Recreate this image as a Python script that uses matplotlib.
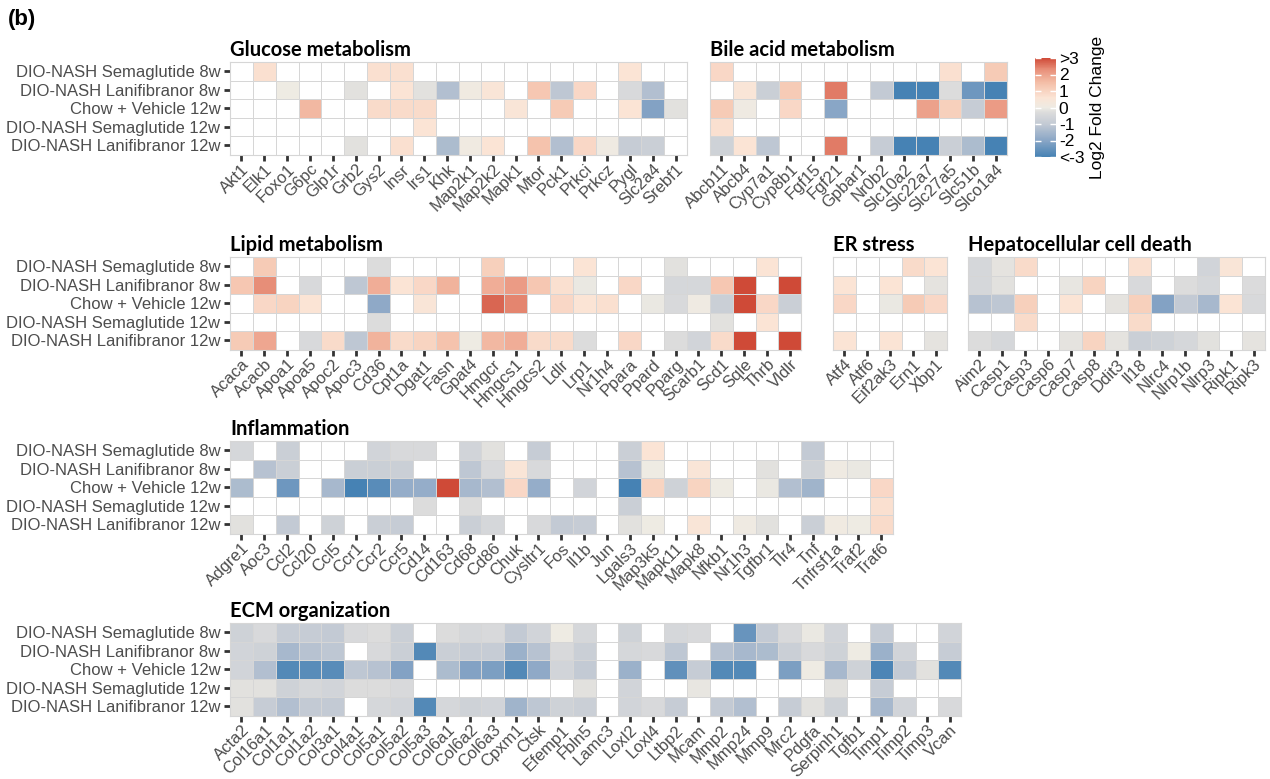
import numpy as np
import matplotlib
matplotlib.use("Agg")
import matplotlib.pyplot as plt
from matplotlib.colors import LinearSegmentedColormap, Normalize
from matplotlib.cm import ScalarMappable

n = np.nan

groups = ["DIO-NASH Semaglutide 8w", "DIO-NASH Lanifibranor 8w", "Chow + Vehicle 12w",
          "DIO-NASH Semaglutide 12w", "DIO-NASH Lanifibranor 12w"]

# log2 fold change, one row per group (white cells = nan)
glucose_genes = ["Akt1", "Elk1", "Foxo1", "G6pc", "Glp1r", "Grb2", "Gys2", "Insr", "Irs1", "Khk",
                 "Map2k1", "Map2k2", "Mapk1", "Mtor", "Pck1", "Prkci", "Prkcz", "Pygl", "Slc2a4", "Srebf1"]
glucose_vals = [
    [n, .7, n, n, n, n, .7, .7, n, n, n, n, n, n, n, n, n, .6, n, n],
    [n, n, 0, n, n, -.2, n, .6, -.2, -1.3, .1, .5, n, 1.3, -1.1, .9, n, -.4, -1.3, n],
    [n, n, n, 1.6, n, n, .8, .8, .8, n, n, n, .5, n, 1.2, n, n, .6, -2.1, -.2],
    [n, n, n, n, n, n, n, n, .6, n, n, n, n, n, n, n, n, n, n, n],
    [n, n, n, n, n, -.2, n, .7, n, -1.4, .1, .6, n, 1.4, -1.3, .9, .05, -.9, -.8, n],
]

bile_genes = ["Abcb11", "Abcb4", "Cyp7a1", "Cyp8b1", "Fgf15", "Fgf21", "Gpbar1", "Nr0b2",
              "Slc10a2", "Slc22a7", "Slc27a5", "Slc51b", "Slco1a4"]
bile_vals = [
    [.9, n, n, n, n, n, n, n, n, n, .7, n, 1.2],
    [n, .5, -.8, 1.2, n, 2.5, n, -1.0, -3, -3, -.3, -2.4, -3],
    [1.2, .05, n, .9, n, -2.0, n, n, n, 2.0, 1.1, -.9, 2.1],
    [.7, n, n, n, n, n, n, n, n, n, n, n, n],
    [-.7, .6, -1.1, n, n, 2.5, n, -.9, -3, -3, -.8, -1.4, -3],
]

lipid_genes = ["Acaca", "Acacb", "Apoa1", "Apoa5", "Apoc2", "Apoc3", "Cd36", "Cpt1a", "Dgat1", "Fasn",
               "Gpat4", "Hmgcr", "Hmgcs1", "Hmgcs2", "Ldlr", "Lrp1", "Nr1h4", "Ppara", "Ppard", "Pparg",
               "Scarb1", "Scd1", "Sqle", "Thrb", "Vldlr"]
lipid_vals = [
    [n, 1.2, n, n, n, n, -.3, n, n, n, n, 1.1, n, n, n, .6, n, n, n, -.2, n, n, n, .6, n],
    [1.3, 2.3, n, -.4, n, -1.1, 1.8, .6, .9, 1.7, n, 1.8, 2.1, 1.3, .7, -.05, n, .9, n, -.5, -.5, 1.3, 3, n, 3],
    [n, .9, 1.0, .6, n, n, -1.9, n, .5, n, n, 2.7, 2.4, n, .9, .6, .7, n, -.05, -.4, .05, -.8, 3, .9, -.8],
    [n, n, n, n, n, n, -.3, n, n, n, n, n, n, n, n, n, n, n, n, n, n, -.2, n, .6, n],
    [1.2, 1.9, n, -.4, .8, -1.1, 1.7, .8, 1.0, 1.4, 0, 1.6, 1.8, .8, .8, -.3, n, .9, n, -.3, -.6, .8, 3, n, 3],
]

er_genes = ["Atf4", "Atf6", "Eif2ak3", "Ern1", "Xbp1"]
er_vals = [
    [n, n, n, .8, .6],
    [.6, n, .6, n, -.15],
    [.9, n, -.05, 1.2, .9],
    [n, n, n, n, n],
    [.6, n, .6, n, -.15],
]

death_genes = ["Aim2", "Casp1", "Casp3", "Casp6", "Casp7", "Casp8", "Ddit3", "Il18", "Nlrc4",
               "Nlrp1b", "Nlrp3", "Ripk1", "Ripk3"]
death_vals = [
    [-.5, -.15, .8, n, n, n, n, .7, n, n, -.6, .5, n],
    [-.5, -.2, n, n, -.1, 1.0, n, -.4, n, -.3, -.5, n, -.35],
    [-1.2, -1.1, 1.1, n, .6, n, -.15, 1.1, -2.1, -1.0, -1.5, .6, -.4],
    [n, n, .8, n, n, n, n, .8, n, n, n, n, n],
    [-.3, -.5, n, n, -.15, 1.0, -.15, -.8, -.7, -.5, -.2, n, -.15],
]

infl_genes = ["Adgre1", "Aoc3", "Ccl2", "Ccl20", "Ccl5", "Ccr1", "Ccr2", "Ccr5", "Cd14", "Cd163",
              "Cd68", "Cd86", "Chuk", "Cysltr1", "Fos", "Il1b", "Jun", "Lgals3", "Map3k5", "Mapk11",
              "Mapk8", "Nfkb1", "Nr1h3", "Tgfbr1", "Tlr4", "Tnf", "Tnfrsf1a", "Traf2", "Traf6"]
infl_vals = [
    [-.5, n, -.8, n, n, n, -.6, -.4, -.4, n, -.6, -.2, n, -.9, n, n, n, -.8, .6, n, n, n, n, n, n, -1.0, n, n, n],
    [n, -1.2, -.8, n, n, -.8, -.8, -.8, n, n, -1.1, -.4, .5, -.4, n, n, n, -1.2, 0, n, .5, n, n, -.2, n, -.7, .05, -.05, n],
    [-1.4, n, -2.4, n, -1.5, -3, -2.7, -1.8, -1.8, 3, -1.5, -1.3, .9, -1.8, n, -.6, n, -3, 1.0, -.7, 1.0, 0, n, -.05, -1.3, -1.6, n, n, .9],
    [n, n, n, n, n, n, n, n, -.3, n, -.3, n, n, n, n, n, n, -.8, n, n, n, n, n, n, n, n, n, n, .7],
    [-.2, n, -1.0, n, -.7, n, -.8, -.9, n, n, -.8, -.5, n, -.4, -1.0, -.9, n, -.2, 0, n, .5, n, .05, -.2, n, -.8, .1, 0, .8],
]

ecm_genes = ["Acta2", "Col16a1", "Col1a1", "Col1a2", "Col3a1", "Col4a1", "Col5a1", "Col5a2", "Col5a3",
             "Col6a1", "Col6a2", "Col6a3", "Cpxm1", "Ctsk", "Efemp1", "Fbln5", "Lamc3", "Loxl2", "Loxl4",
             "Ltbp2", "Mcam", "Mmp2", "Mmp24", "Mmp9", "Mrc2", "Pdgfa", "Serpinh1", "Tgfb1", "Timp1",
             "Timp2", "Timp3", "Vcan"]
ecm_vals = [
    [-.7, -.4, -.9, -.9, -1.0, -.4, -.3, -.8, n, -.3, -.5, -.4, -1.0, -.6, 0, -.5, n, -.7, n, -.5, -.4, n, -2.5, -1.0, -.4, -.05, -.6, n, -.9, n, n, -.6],
    [-.6, -.7, -1.5, -1.2, -1.1, n, -.4, -.8, -2.8, -.8, -.9, -.9, -1.7, -1.2, -.4, -.8, n, -.5, -.4, -1.1, n, -1.2, -1.5, -1.4, -.8, -.4, -.7, 0, -1.7, -.6, n, -.9],
    [-.6, -1.3, -2.8, -2.7, -2.7, -1.1, -1.2, -2.1, n, -1.4, -2.1, -2.2, -2.8, -1.9, -.6, -1.0, n, -1.7, n, -2.6, -.9, -2.8, -2.8, n, -2.2, 0, -1.5, -.7, -2.9, -1.0, -.2, -2.8],
    [-.2, -.2, -.7, -.5, -.6, -.3, -.3, -.4, n, n, n, n, n, n, n, -.2, n, -.6, n, n, -.1, n, n, n, n, n, -.2, n, -.9, n, n, n],
    [-.2, -.9, -1.3, -1.0, -1.0, n, -.5, -.6, -2.8, -.5, -.7, -.6, -1.6, -1.1, -.7, -.8, n, -.6, -.4, -.9, n, -1.0, -1.3, n, -.9, -.2, -.7, n, -1.5, -.6, n, -.4],
]

# colour scale
stops = [(-3, '#4682B4'), (-2, '#8AA6C6'), (-1, '#C3CAD4'), (-0.3, '#DCDCDC'), (0, '#EEEBE3'),
         (0.6, '#FBE4D5'), (1.5, '#F4BFA8'), (2.3, '#E8907A'), (3, '#CF4A37')]
cmap = LinearSegmentedColormap.from_list('lfc', [((v + 3) / 6, c) for v, c in stops])
cmap.set_bad('white')
norm = Normalize(-3, 3)

W, H = 1270, 779
fig = plt.figure(figsize=(12.7, 7.79), dpi=100)

CW, CH = 22.85, 18.5
lab_font = ['Liberation Sans', 'DejaVu Sans']
title_font = ['Lato', 'DejaVu Sans']


def panel(left, top, genes, vals, title, ylabels):
    ncol = len(genes)
    ax = fig.add_axes([left / W, 1 - (top + 5 * CH) / H, ncol * CW / W, 5 * CH / H])
    data = np.ma.masked_invalid(np.array(vals, dtype=float))
    ax.pcolormesh(np.arange(ncol + 1), np.arange(6), data, cmap=cmap, norm=norm,
                  edgecolors='#d6d6d6', linewidth=0.5)
    ax.set_xlim(0, ncol)
    ax.set_ylim(5, 0)
    ax.set_xticks(np.arange(ncol) + 0.5)
    ax.set_xticklabels(genes, rotation=45, ha='right', va='top', rotation_mode='anchor',
                       fontsize=12, color='#4d4d4d', family=lab_font)
    ax.set_yticks(np.arange(5) + 0.5)
    if ylabels:
        ax.set_yticklabels(groups, fontsize=12, color='#4d4d4d', family=lab_font)
        ax.tick_params(axis='y', length=4, width=2, color='#333333', pad=3)
    else:
        ax.set_yticklabels([])
        ax.tick_params(axis='y', length=0)
    ax.tick_params(axis='x', length=4, width=2, color='#333333', pad=1)
    for s in ax.spines.values():
        s.set_color('#d6d6d6')
        s.set_linewidth(0.8)
    ax.set_title(title, loc='left', fontsize=14.5, fontweight='bold', family=title_font, pad=4)
    return ax


panel(230, 62, glucose_genes, glucose_vals, "Glucose metabolism", True)
panel(710, 62, bile_genes, bile_vals, "Bile acid metabolism", False)
panel(230, 257, lipid_genes, lipid_vals, "Lipid metabolism", True)
panel(833, 257, er_genes, er_vals, "ER stress", False)
panel(968, 257, death_genes, death_vals, "Hepatocellular cell death", False)
panel(230, 441, infl_genes, infl_vals, "Inflammation", True)
panel(230, 623, ecm_genes, ecm_vals, "ECM organization", True)

# colour bar
cax = fig.add_axes([1035 / W, 1 - 157 / H, 21 / W, 99 / H])
cb = fig.colorbar(ScalarMappable(norm=norm, cmap=cmap), cax=cax)
cb.set_ticks([-3, -2, -1, 0, 1, 2, 3])
cb.set_ticklabels(['<-3', '-2', '-1', '0', '1', '2', '>3'])
cb.outline.set_visible(False)
cax.tick_params(left=True, right=True, direction='in', color='white', length=4, width=1,
                labelsize=12.5, pad=2)
for t in cax.get_yticklabels():
    t.set_family(lab_font)
cb.set_label('Log2 Fold Change', fontsize=12.5, family=lab_font, labelpad=4)

fig.text(8 / W, 1 - 19 / H, '(b)', fontsize=16, fontweight='bold', family=lab_font, va='center')

fig.savefig('out.png', dpi=100)
